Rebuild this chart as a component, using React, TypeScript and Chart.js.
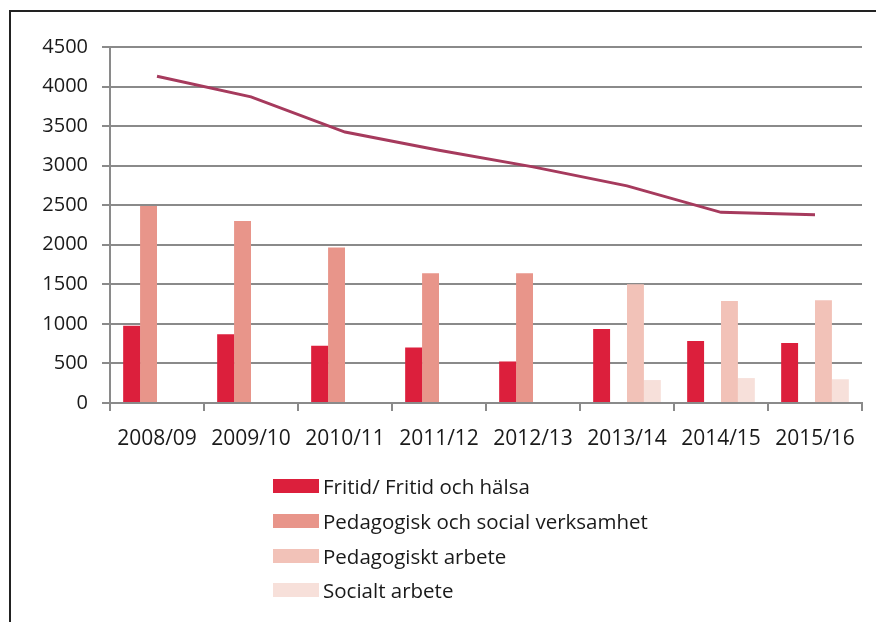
import React, { useEffect, useRef } from "react";
import { Chart, registerables } from "chart.js";

Chart.register(...registerables);

const categories = ["2008/09", "2009/10", "2010/11", "2011/12", "2012/13", "2013/14", "2014/15", "2015/16"];
const fritid = [975, 870, 725, 700, 525, 935, 785, 760];
const pedSocial = [2490, 2300, 1965, 1640, 1640, null, null, null];
const pedArbete = [null, null, null, null, null, 1500, 1290, 1300];
const socialt = [null, null, null, null, null, 290, 315, 300];
const total = [4130, 3870, 3425, 3195, 2985, 2745, 2410, 2380];
const yTicks = [0, 500, 1000, 1500, 2000, 2500, 3000, 3500, 4000, 4500];

const barLabels = ["Fritid/ Fritid och hälsa", "Pedagogisk och social verksamhet", "Pedagogiskt arbete", "Socialt arbete"];
const barColors = ["#dc1f3c", "#e8958a", "#f2c2b8", "#f7e0da"];
const lineColor = "#a63a5d";

const FONT = "'Open Sans', sans-serif";

export default function App() {
  const ref = useRef<HTMLCanvasElement | null>(null);

  useEffect(() => {
    if (!ref.current) return;
    const barSeries = [fritid, pedSocial, pedArbete, socialt];
    const chart = new Chart(ref.current, {
      type: "bar",
      data: {
        labels: categories,
        datasets: [
          {
            type: "line",
            label: "Totalt",
            data: total,
            borderColor: lineColor,
            backgroundColor: lineColor,
            borderWidth: 3,
            pointRadius: 0,
            tension: 0,
            order: 0,
          } as any,
          ...barSeries.map((d, i) => ({
            type: "bar",
            label: barLabels[i],
            data: d,
            backgroundColor: barColors[i],
            borderWidth: 0,
            categoryPercentage: 0.72,
            barPercentage: 1,
            order: 1,
          })),
        ],
      },
      options: {
        responsive: false,
        animation: false,
        layout: { padding: { top: 47, right: 14, bottom: 0, left: 0 } },
        plugins: { legend: { display: false }, tooltip: { enabled: false } },
        scales: {
          x: {
            grid: { display: true, drawOnChartArea: false, drawTicks: true, tickLength: 8, color: "#8a8a8a", lineWidth: 2, offset: true },
            border: { display: true, color: "#8a8a8a", width: 2 },
            ticks: { color: "#1a1a1a", font: { family: FONT, size: 21 }, padding: 15, maxRotation: 0 },
            afterFit: (s: any) => { s.height = 622 - 403; },
          },
          y: {
            min: 0,
            max: 4500,
            afterBuildTicks: (s: any) => { s.ticks = yTicks.map((v) => ({ value: v })); },
            grid: { color: "#8a8a8a", lineWidth: 2, tickLength: 8 },
            border: { display: true, color: "#8a8a8a", width: 2 },
            ticks: { color: "#1a1a1a", font: { family: FONT, size: 20 }, padding: 14, callback: (v: any) => String(v) },
            afterFit: (s: any) => { s.width = 110; },
          },
        },
      },
    });
    return () => chart.destroy();
  }, []);

  return (
    <div style={{ position: "fixed", left: 0, top: 0, width: 876, height: 622, background: "#fff", overflow: "hidden" }}>
      <div style={{ position: "absolute", left: 9, top: 10, right: -5, bottom: -5, borderLeft: "2px solid #222", borderTop: "2px solid #222" }} />
      <canvas ref={ref} width={876} height={622} style={{ position: "absolute", left: 0, top: 0, width: 876, height: 622 }} />
      <div style={{ position: "absolute", left: 273, top: 469, fontFamily: FONT, fontSize: 20.5, color: "#1a1a1a" }}>
        {barLabels.map((l, i) => (
          <div key={l} style={{ display: "flex", alignItems: "center", height: 34.7 }}>
            <span style={{ display: "inline-block", width: 46, height: 14, background: barColors[i], marginRight: 4 }} />
            <span>{l}</span>
          </div>
        ))}
      </div>
    </div>
  );
}
